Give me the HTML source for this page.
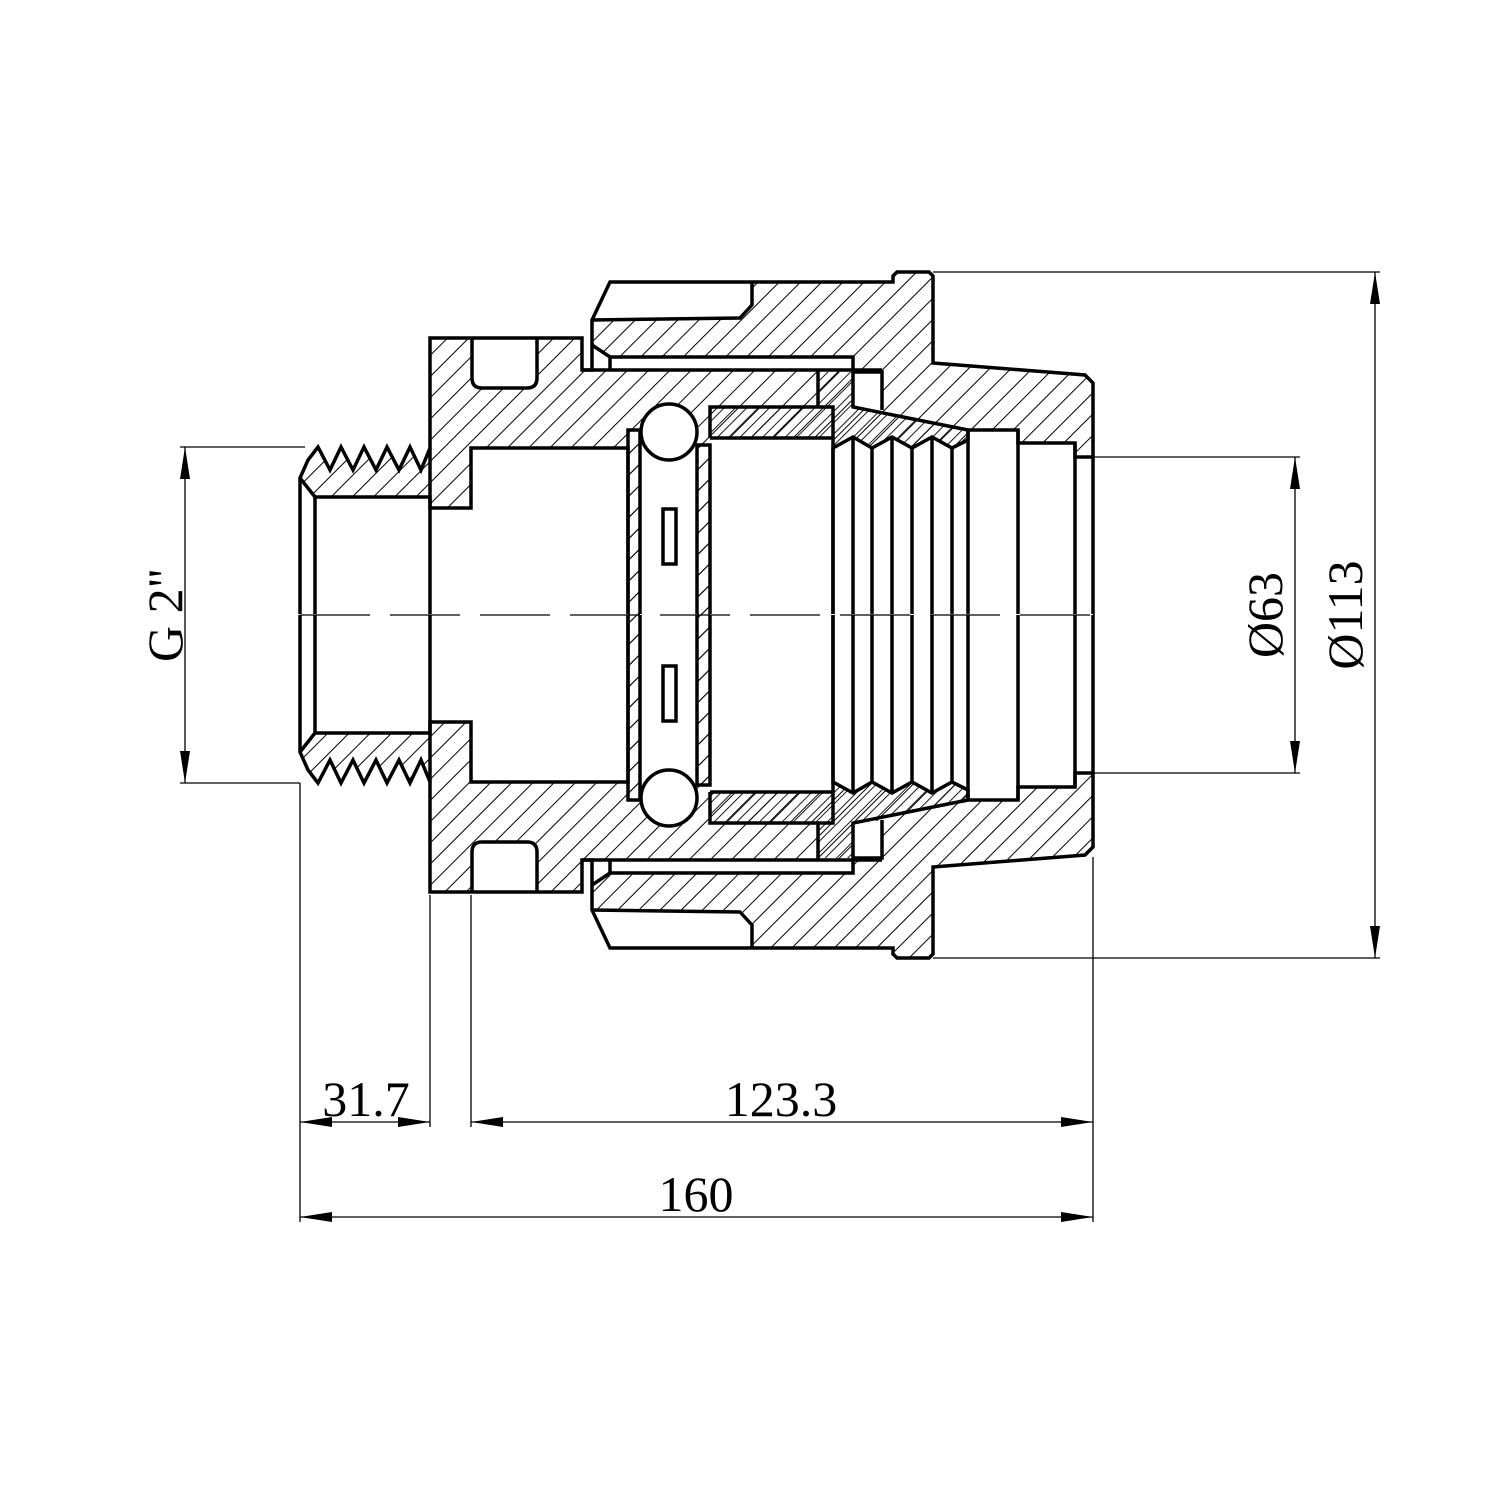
<!DOCTYPE html>
<html><head><meta charset="utf-8"><style>html,body{margin:0;padding:0;background:#fff}svg{display:block}</style></head>
<body>
<svg width="1509" height="1510" viewBox="0 0 1509 1510" xmlns="http://www.w3.org/2000/svg">
<defs>
<pattern id="h" patternUnits="userSpaceOnUse" width="15" height="15" patternTransform="rotate(45)"><line x1="0" y1="0" x2="0" y2="15" stroke="#000" stroke-width="2"/></pattern>
<pattern id="hm" patternUnits="userSpaceOnUse" width="15" height="15" patternTransform="rotate(-45)"><line x1="0" y1="0" x2="0" y2="15" stroke="#000" stroke-width="2"/></pattern>
<pattern id="d" patternUnits="userSpaceOnUse" width="8" height="8" patternTransform="rotate(45)"><line x1="0" y1="0" x2="0" y2="8" stroke="#000" stroke-width="1.8"/></pattern>
<pattern id="dm" patternUnits="userSpaceOnUse" width="8" height="8" patternTransform="rotate(-45)"><line x1="0" y1="0" x2="0" y2="8" stroke="#000" stroke-width="1.8"/></pattern>

<g id="fillsA">
<polygon points="300,615 300,478 308,460 318,447 330,470 341,447 353,470 364,447 376,470 387,447 399,470 410,447 421,470 430,448 430,338 582,338 582,370 592,370 592,320 610,282 893,282 893,276 897,272 929,272 933,276 933,363 1085,375 1093,383 1093,615"/>
</g>
<g id="whites" fill="#fff">
<polygon points="298,616 298,478 315,497 430,497 430,508 471,508 471,448 628,448 628,616"/>
<rect x="640" y="445" width="57" height="171"/>
<circle cx="669" cy="432" r="28"/>
<rect x="710" y="438" width="123" height="178"/>
<polygon points="833,616 833,448 853,437 872,448 892,437 912,448 932,437 952,448 968,440 968,430 1018,430 1018,443 1075,443 1075,457 1093,457 1093,616"/>
<path d="M472,338 H537 V378 Q537,388 527,388 H482 Q472,388 472,378 Z"/>
<polygon points="610,282 752,282 752,305 740,318 592,320"/>
<polygon points="592,345 610,357 853,357 853,370 592,370"/>
<rect x="853" y="372" width="29" height="37"/>
</g>
<g id="lines" fill="none" stroke="#000" stroke-width="3.5" stroke-linejoin="miter">
<polyline points="300,615 300,478 308,460 318,447 330,470 341,447 353,470 364,447 376,470 387,447 399,470 410,447 421,470 430,448 430,338 582,338 582,370 592,370 592,320 610,282 893,282 893,276 897,272 929,272 933,276 933,363 1085,375 1093,383 1093,615"/>
<polyline points="315,615 315,497 430,497 430,508 471,508 471,448 628,448 628,615"/>
<line x1="300" y1="478" x2="315" y2="497"/>
<line x1="430" y1="448" x2="430" y2="615"/>
<polyline points="628,615 628,430 640,430 640,615"/>
<polyline points="697,615 697,445 710,445 710,615"/>
<circle cx="669" cy="432" r="28" fill="#fff"/>
<rect x="663" y="509" width="13" height="55"/>
<polyline points="710,438 710,407 833,407 833,615"/>
<line x1="710" y1="438" x2="833" y2="438"/>
<polyline points="833,615 833,448 853,437 872,448 892,437 912,448 932,437 952,448 968,440 968,430 1018,430 1018,443 1075,443 1075,457 1093,457"/>
<line x1="853" y1="437" x2="853" y2="615"/><line x1="872" y1="448" x2="872" y2="615"/>
<line x1="892" y1="437" x2="892" y2="615"/><line x1="912" y1="448" x2="912" y2="615"/>
<line x1="932" y1="437" x2="932" y2="615"/><line x1="952" y1="448" x2="952" y2="615"/>
<line x1="968" y1="430" x2="968" y2="615"/><line x1="1018" y1="430" x2="1018" y2="615"/>
<line x1="1075" y1="443" x2="1075" y2="615"/>
<path d="M472,338 V378 Q472,388 482,388 H527 Q537,388 537,378 V338"/>
<polyline points="752,282 752,305 740,318 592,320"/>
<polyline points="592,345 610,357 853,357 853,407 968,430"/>
<polyline points="610,357 610,370"/>
<line x1="582" y1="370" x2="882" y2="370"/>
<polyline points="818,370 818,407"/>
<polyline points="853,372 882,372 882,410"/>
</g>
</defs>

<use href="#fillsA" fill="url(#h)"/>
<use href="#whites"/>
<rect x="628" y="430" width="12" height="185" fill="url(#h)"/>
<rect x="697" y="445" width="13" height="170" fill="url(#h)"/>
<rect x="710" y="407" width="123" height="31" fill="url(#d)"/>
<rect x="818" y="372" width="35" height="35" fill="url(#d)"/>
<polygon points="833,407 853,407 968,430 968,440 952,448 932,437 912,448 892,437 872,448 853,437 833,448" fill="url(#d)"/>
<use href="#lines"/>

<g transform="translate(0,1230) scale(1,-1)">
<use href="#fillsA" fill="url(#hm)"/>
<use href="#whites"/>
<rect x="628" y="430" width="12" height="185" fill="url(#hm)"/>
<rect x="697" y="445" width="13" height="170" fill="url(#hm)"/>
<rect x="710" y="407" width="123" height="31" fill="url(#dm)"/>
<rect x="818" y="372" width="35" height="35" fill="url(#dm)"/>
<polygon points="833,407 853,407 968,430 968,440 952,448 932,437 912,448 892,437 872,448 853,437 833,448" fill="url(#dm)"/>
<use href="#lines"/>
</g>

<line x1="300" y1="615" x2="1095" y2="615" stroke="#000" stroke-width="1.3" stroke-dasharray="70,20"/>

<g stroke="#000" stroke-width="1.3" fill="none">
<line x1="933" y1="272" x2="1380" y2="272"/>
<line x1="933" y1="958" x2="1380" y2="958"/>
<line x1="1375" y1="272" x2="1375" y2="958"/>
<line x1="1093" y1="457" x2="1300" y2="457"/>
<line x1="1093" y1="773" x2="1300" y2="773"/>
<line x1="1295" y1="457" x2="1295" y2="773"/>
<line x1="180" y1="447" x2="305" y2="447"/>
<line x1="180" y1="783" x2="300" y2="783"/>
<line x1="185" y1="447" x2="185" y2="783"/>
<line x1="300" y1="783" x2="300" y2="1222"/>
<line x1="430" y1="895" x2="430" y2="1127"/>
<line x1="471" y1="895" x2="471" y2="1127"/>
<line x1="1093" y1="857" x2="1093" y2="1222"/>
<line x1="300" y1="1122" x2="430" y2="1122"/>
<line x1="471" y1="1122" x2="1093" y2="1122"/>
<line x1="300" y1="1217" x2="1093" y2="1217"/>
</g>
<g fill="#000">
<polygon points="1375,272 1370,304 1380,304"/>
<polygon points="1375,958 1370,926 1380,926"/>
<polygon points="1295,457 1290,489 1300,489"/>
<polygon points="1295,773 1290,741 1300,741"/>
<polygon points="185,447 180,479 190,479"/>
<polygon points="185,783 180,751 190,751"/>
<polygon points="300,1122 332,1117 332,1127"/>
<polygon points="430,1122 398,1117 398,1127"/>
<polygon points="471,1122 503,1117 503,1127"/>
<polygon points="1093,1122 1061,1117 1061,1127"/>
<polygon points="300,1217 332,1212 332,1222"/>
<polygon points="1093,1217 1061,1212 1061,1222"/>
</g>
<g font-family="'Liberation Serif', serif" font-size="50" fill="#000" text-anchor="middle">
<text x="366" y="1116">31.7</text>
<text x="781" y="1116">123.3</text>
<text x="696" y="1211">160</text>
<text transform="translate(182,615) rotate(-90)">G 2"</text>
<text transform="translate(1282,615) rotate(-90)">Ø63</text>
<text transform="translate(1362,615) rotate(-90)">Ø113</text>
</g>
</svg>
</body></html>
